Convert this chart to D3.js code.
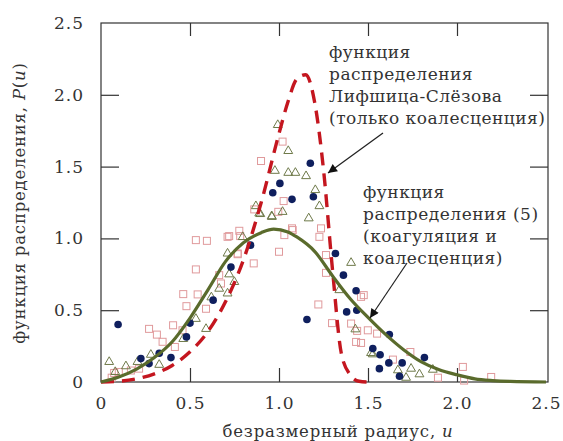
<!DOCTYPE html>
<html>
<head>
<meta charset="utf-8">
<script src="https://d3js.org/d3.v7.min.js"></script>
<style>
  body { margin: 0; background: #fff; }
  text { font-family: "DejaVu Serif", serif; fill: #333; }
</style>
</head>
<body>
<svg width="563" height="441"></svg>
<script>
// tick values
var xTicks = [0, 0.5, 1.0, 1.5, 2.0, 2.5];
var yTicks = [0, 0.5, 1.0, 1.5, 2.0, 2.5];

// Lifshitz-Slyozov curve
var lswU = [0, 0.1, 0.2, 0.3, 0.4, 0.5, 0.6, 0.7, 0.8, 0.9, 1.0, 1.05, 1.1, 1.15, 1.2, 1.25, 1.3, 1.35, 1.4, 1.45, 1.5];
var lswP = [0, 0.005, 0.022, 0.057, 0.115, 0.21, 0.35, 0.56, 0.85, 1.25, 1.73, 1.95, 2.11, 2.14, 1.95, 1.48, 0.79, 0.2, 0.05, 0.005, 0];

// distribution (5)
var fitU = [0, 0.1, 0.2, 0.3, 0.4, 0.5, 0.6, 0.7, 0.8, 0.9, 0.97, 1.05, 1.1, 1.2, 1.3, 1.4, 1.5, 1.6, 1.7, 1.8, 1.9, 2.0, 2.1, 2.2, 2.3, 2.5];
var fitP = [0, 0.035, 0.09, 0.17, 0.28, 0.445, 0.64, 0.84, 0.97, 1.04, 1.065, 1.045, 1.01, 0.91, 0.74, 0.58, 0.45, 0.33, 0.225, 0.14, 0.085, 0.05, 0.022, 0.01, 0.004, 0];

// filled circles
var circU = [0.096, 0.224, 0.27, 0.327, 0.393, 0.48, 0.50, 0.63, 0.73, 0.84, 1.005, 0.965, 1.073, 1.176, 1.193, 1.317, 1.362, 1.433, 1.38, 1.437, 1.157, 1.527, 1.62, 1.568, 1.617, 1.564, 1.692, 1.677, 1.817];
var circP = [0.40, 0.163, 0.128, 0.20, 0.17, 0.314, 0.41, 0.57, 0.80, 0.953, 1.383, 1.318, 1.272, 1.523, 1.29, 0.895, 0.744, 0.635, 0.488, 0.50, 0.435, 0.233, 0.33, 0.19, 0.133, 0.093, 0.133, 0.04, 0.17];

// open squares
var sqU = [0.533, 0.533, 0.462, 0.543, 0.48, 0.405, 0.458, 0.27, 0.314, 0.346, 0.415, 0.10, 0.168, 0.06, 0.59, 0.674, 0.664, 0.858, 0.768, 0.595, 0.72, 0.777, 0.768, 0.214, 0.074, 1.0, 1.03, 1.077, 0.899, 1.02, 0.861, 1.026, 0.996, 0.782, 0.711, 1.236, 1.227, 1.073, 1.264, 1.264, 1.476, 1.221, 1.298, 1.405, 1.439, 1.551, 1.433, 1.461, 1.738, 2.033, 2.192, 2.04, 1.461, 1.499, 1.64, 1.893];
var sqP = [0.988, 0.784, 0.612, 0.61, 0.528, 0.395, 0.36, 0.37, 0.33, 0.28, 0.244, 0.07, 0.08, 0.03, 0.51, 0.686, 0.744, 0.826, 0.89, 0.983, 1.016, 1.053, 0.895, 0.093, 0.063, 0.907, 1.023, 1.058, 1.539, 1.674, 1.202, 1.26, 1.185, 1.016, 1.011, 1.07, 1.011, 1.07, 0.884, 0.76, 0.605, 0.54, 0.41, 0.407, 0.356, 0.337, 0.279, 0.272, 0.209, 0.105, 0.035, 0.01, 0.593, 0.36, 0.156, 0.03];

// open triangles
var triU = [0.046, 0.14, 0.205, 0.28, 0.327, 0.462, 0.533, 0.59, 0.08, 0.62, 0.664, 0.711, 0.72, 0.749, 0.711, 0.796, 0.889, 0.959, 1.02, 0.993, 1.052, 0.977, 1.052, 0.87, 0.895, 0.96, 1.092, 1.152, 1.204, 1.227, 1.167, 1.405, 1.339, 1.429, 1.517, 1.527, 1.668, 1.742, 1.789, 1.714, 1.864];
var triP = [0.14, 0.11, 0.14, 0.19, 0.12, 0.30, 0.44, 0.37, 0.07, 0.59, 0.65, 0.617, 0.75, 0.697, 0.895, 1.01, 1.174, 1.155, 1.185, 1.79, 1.609, 1.471, 1.457, 1.225, 1.17, 1.15, 1.457, 1.434, 1.337, 1.225, 1.14, 0.83, 0.64, 0.367, 0.202, 0.193, 0.082, 0.093, 0.054, 0.03, 0.086];

var note1 = ["функция", "распределения", "Лифшица-Слёзова", "(только коалесценция)"];
var note2 = ["функция", "распределения (5)", "(коагуляция и", "коалесценция)"];

var svg = d3.select("svg");
var plotLeft = 101, plotRight = 546, frameRight = 548, plotTop = 23, plotBottom = 382;

var x = d3.scaleLinear().domain([0, 2.5]).range([plotLeft, plotRight]);
var y = d3.scaleLinear().domain([0, 2.5]).range([plotBottom, plotTop]);

// frame
svg.append("rect")
    .attr("x", plotLeft).attr("y", plotTop)
    .attr("width", frameRight - plotLeft).attr("height", plotBottom - plotTop)
    .attr("fill", "none").attr("stroke", "#333").attr("stroke-width", 1.2);

var inner = xTicks.slice(1, -1);
function styleAxis(g) {
    g.select(".domain").remove();
    g.selectAll(".tick line").attr("stroke", "#333").attr("stroke-width", 1.2);
    g.selectAll("text").attr("fill", "#333").style("font-size", "17px").style("letter-spacing", "1px");
}
var fmt = function (d) { return d === 0 ? "0" : d.toFixed(1); };

// tick labels
svg.append("g").attr("transform", "translate(0," + plotBottom + ")")
    .call(d3.axisBottom(x).tickValues(xTicks).tickFormat(fmt).tickSizeInner(0).tickPadding(15))
    .call(styleAxis);
svg.append("g").attr("transform", "translate(" + plotLeft + ",0)")
    .call(d3.axisLeft(y).tickValues(yTicks).tickFormat(fmt).tickSizeInner(0).tickPadding(17))
    .call(styleAxis);

// inside ticks on all four sides
svg.append("g").attr("transform", "translate(0," + plotBottom + ")")
    .call(d3.axisTop(x).tickValues(inner).tickFormat("").tickSizeOuter(0).tickSize(14)).call(styleAxis);
svg.append("g").attr("transform", "translate(0," + plotTop + ")")
    .call(d3.axisBottom(x).tickValues(inner).tickFormat("").tickSizeOuter(0).tickSize(13)).call(styleAxis);
svg.append("g").attr("transform", "translate(" + plotLeft + ",0)")
    .call(d3.axisRight(y).tickValues(yTicks.slice(1, -1)).tickFormat("").tickSizeOuter(0).tickSize(18)).call(styleAxis);
svg.append("g").attr("transform", "translate(" + frameRight + ",0)")
    .call(d3.axisLeft(y).tickValues(yTicks.slice(1, -1)).tickFormat("").tickSizeOuter(0).tickSize(18)).call(styleAxis);

// axis titles
svg.append("text")
    .attr("x", 338).attr("y", 437)
    .attr("text-anchor", "middle")
    .style("font-size", "16.5px").style("letter-spacing", "0.8px")
    .html('безразмерный радиус, <tspan font-style="italic">u</tspan>');
svg.append("text")
    .attr("transform", "translate(25,203) rotate(-90)")
    .attr("text-anchor", "middle")
    .style("font-size", "16.5px").style("letter-spacing", "0.8px")
    .html('функция распределения, <tspan font-style="italic">P</tspan>(<tspan font-style="italic">u</tspan>)');

// scatter
svg.append("g").selectAll("rect")
    .data(d3.zip(sqU, sqP)).enter().append("rect")
    .attr("x", function (d) { return x(d[0]) - 3.5; })
    .attr("y", function (d) { return y(d[1]) - 3.5; })
    .attr("width", 7).attr("height", 7)
    .attr("fill", "none").attr("stroke", "#e09a9c").attr("stroke-width", 1);

var tri = d3.symbol().type(d3.symbolTriangle).size(34);
svg.append("g").selectAll("path")
    .data(d3.zip(triU, triP)).enter().append("path")
    .attr("d", tri)
    .attr("transform", function (d) { return "translate(" + x(d[0]) + "," + y(d[1]) + ")"; })
    .attr("fill", "none").attr("stroke", "#6f7a4a").attr("stroke-width", 1);

svg.append("g").selectAll("circle")
    .data(d3.zip(circU, circP)).enter().append("circle")
    .attr("cx", function (d) { return x(d[0]); })
    .attr("cy", function (d) { return y(d[1]); })
    .attr("r", 3.8)
    .attr("fill", "#0f1f5e");

// curves
var line = d3.line()
    .x(function (d) { return x(d[0]); })
    .y(function (d) { return y(d[1]); })
    .curve(d3.curveMonotoneX);

svg.append("path")
    .attr("d", line(d3.zip(lswU, lswP)))
    .attr("fill", "none").attr("stroke", "#c4161f").attr("stroke-width", 3.4)
    .attr("stroke-dasharray", "13,8");

svg.append("path")
    .attr("d", line(d3.zip(fitU, fitP)))
    .attr("fill", "none").attr("stroke", "#5a6b2c").attr("stroke-width", 3.2);

// annotations
function note(lines, x0, y0) {
    var t = svg.append("text").style("font-size", "17px").style("letter-spacing", "0.5px");
    lines.forEach(function (s, i) {
        t.append("tspan").attr("x", x0).attr("y", y0 + i * 22).text(s);
    });
}
note(note1, 329, 58);
note(note2, 363, 198);

svg.append("defs").append("marker")
    .attr("id", "head").attr("viewBox", "0 0 10 10")
    .attr("refX", 10).attr("refY", 5)
    .attr("markerWidth", 14).attr("markerHeight", 9)
    .attr("markerUnits", "userSpaceOnUse")
    .attr("orient", "auto")
    .append("path").attr("d", "M0,0 L10,5 L0,10 Z").attr("fill", "#111");

function arrow(x1, y1, x2, y2) {
    svg.append("line")
        .attr("x1", x1).attr("y1", y1).attr("x2", x2).attr("y2", y2)
        .attr("stroke", "#222").attr("stroke-width", 1.2)
        .attr("marker-end", "url(#head)");
}
arrow(383, 133, 328, 173);
arrow(407, 263, 370, 318);
</script>
</body>
</html>
